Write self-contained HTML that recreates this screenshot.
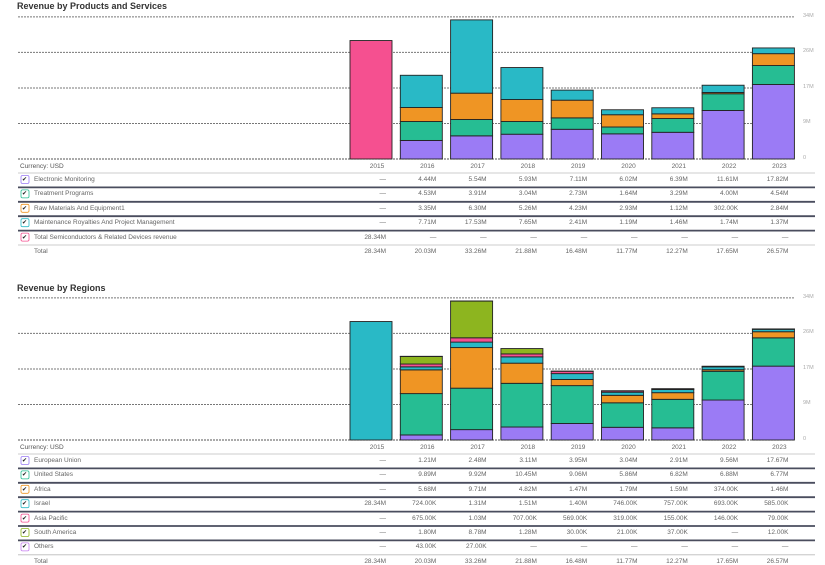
<!DOCTYPE html>
<html><head><meta charset="utf-8"><style>
body{margin:0;width:825px;height:559px;overflow:hidden;background:#fff;font-family:"Liberation Sans",sans-serif;position:relative}
.t{position:absolute;font-size:6.5px;color:#666;white-space:nowrap}
.title{position:absolute;font-size:9px;font-weight:bold;color:#333}
svg{position:absolute;left:0;top:0}
</style></head><body>
<div class="title" style="left:17px;top:1px">Revenue by Products and Services</div>
<div class="title" style="left:17px;top:283px">Revenue by Regions</div>
<svg id="s" width="825" height="559"></svg>
<div id="txt"></div>
<script>
const years=["2015","2016","2017","2018","2019","2020","2021","2022","2023"];
const ticks=[0,8.5,17,25.5,34];
const tickLabels=["0","9M","17M","26M","34M"];
// Products (millions)
const pNames=["Electronic Monitoring","Treatment Programs","Raw Materials And Equipment1","Maintenance Royalties And Project Management","Total Semiconductors & Related Devices revenue"];
const pColors=["#9b7bf5","#26bd93","#ef9524","#29b9c6","#f55090"];
const pElec=[0,4.44,5.54,5.93,7.11,6.02,6.39,11.61,17.82];
const pTreat=[0,4.53,3.91,3.04,2.73,1.64,3.29,4.00,4.54];
const pRaw=[0,3.35,6.30,5.26,4.23,2.93,1.12,0.302,2.84];
const pMaint=[0,7.71,17.53,7.65,2.41,1.19,1.46,1.74,1.37];
const pSemi=[28.34,0,0,0,0,0,0,0,0];
const pLabels=[
["—","4.44M","5.54M","5.93M","7.11M","6.02M","6.39M","11.61M","17.82M"],
["—","4.53M","3.91M","3.04M","2.73M","1.64M","3.29M","4.00M","4.54M"],
["—","3.35M","6.30M","5.26M","4.23M","2.93M","1.12M","302.00K","2.84M"],
["—","7.71M","17.53M","7.65M","2.41M","1.19M","1.46M","1.74M","1.37M"],
["28.34M","—","—","—","—","—","—","—","—"]];
const totals=["28.34M","20.03M","33.26M","21.88M","16.48M","11.77M","12.27M","17.65M","26.57M"];
// Regions (millions)
const rNames=["European Union","United States","Africa","Israel","Asia Pacific","South America","Others"];
const rColors=["#9b7bf5","#26bd93","#ef9524","#29b9c6","#f55090","#8db51f","#c77ef0"];
const rEU=[0,1.21,2.48,3.11,3.95,3.04,2.91,9.56,17.67];
const rUS=[0,9.89,9.92,10.45,9.06,5.86,6.82,6.88,6.77];
const rAf=[0,5.68,9.71,4.82,1.47,1.79,1.59,0.374,1.46];
const rIs=[28.34,0.724,1.31,1.51,1.40,0.746,0.757,0.693,0.585];
const rAP=[0,0.675,1.03,0.707,0.569,0.319,0.155,0.146,0.079];
const rSA=[0,1.80,8.78,1.28,0.030,0.021,0.037,0,0.012];
const rOt=[0,0.043,0.027,0,0,0,0,0,0];
const rLabels=[
["—","1.21M","2.48M","3.11M","3.95M","3.04M","2.91M","9.56M","17.67M"],
["—","9.89M","9.92M","10.45M","9.06M","5.86M","6.82M","6.88M","6.77M"],
["—","5.68M","9.71M","4.82M","1.47M","1.79M","1.59M","374.00K","1.46M"],
["28.34M","724.00K","1.31M","1.51M","1.40M","746.00K","757.00K","693.00K","585.00K"],
["—","675.00K","1.03M","707.00K","569.00K","319.00K","155.00K","146.00K","79.00K"],
["—","1.80M","8.78M","1.28M","30.00K","21.00K","37.00K","—","12.00K"],
["—","43.00K","27.00K","—","—","—","—","—","—"]];
const NS="http://www.w3.org/2000/svg",svg=document.getElementById('s'),txt=document.getElementById('txt');
const x0=350,pitch=50.3,bw=42,pxPerM=4.18;
function xs(i){return x0+i*pitch;}
function mk(tag,a){const e=document.createElementNS(NS,tag);for(const k in a)e.setAttribute(k,a[k]);svg.appendChild(e);return e;}
function label(s,x,y,align,extra){const d=document.createElement('div');d.className='t';d.textContent=s;
 d.style.top=(y-4)+'px';
 if(align==='r'){d.style.right=(825-x)+'px';}else if(align==='c'){d.style.left=(x-20)+'px';d.style.width='40px';d.style.textAlign='center';}else d.style.left=x+'px';
 if(extra)d.style.cssText+=extra;txt.appendChild(d);return d;}
function chart(base,series,colors,names,labels,pre){
 const ys=v=>base-v*pxPerM;
 ticks.forEach((t,i)=>{const g=mk('line',{x1:18,x2:795,y1:ys(t),y2:ys(t),stroke:i==0?'#555':'#777','stroke-width':1,'stroke-dasharray':'2,1'});
  
  const l=label(tickLabels[i],803,ys(t),'l','font-size:5.5px;color:#aaa');
  });
 years.forEach((yr,i)=>{let acc=0;
  series.forEach((s,k)=>{const v=s[i];if(v<=0)return;
   const r=mk('rect',{x:xs(i),y:ys(acc+v),width:bw,height:v*pxPerM,fill:colors[k],stroke:'#222','stroke-width':0.9});
   acc+=v;});
 });
 const hy=base+8;
 label('Currency: USD',20,hy,'l','color:#555');
 years.forEach((yr,i)=>{const l=label(yr,xs(i)+27,hy,'c');});
 const rh=14.4;
 names.forEach((n,k)=>{const cy=hy+13+k*rh;
  mk('line',{x1:18,x2:815,y1:cy-7,y2:cy-7,stroke:k==0?'#bbb':'#4a4d5e','stroke-width':k==0?0.8:1.8});
  const cb=mk('rect',{x:21,y:cy-4.5,width:8,height:8,rx:1.5,fill:'#fff',stroke:colors[k],'stroke-width':0.8});
  
  label('✔',22,cy,'l','font-size:6px;color:#222');
  const l=label(n,34,cy,'l');
  labels[k].forEach((v,i)=>label(v,xs(i)+36,cy,'r'));});
 mk('line',{x1:18,x2:815,y1:hy+13+names.length*rh-7,y2:hy+13+names.length*rh-7,stroke:'#bbb','stroke-width':0.8});
 const ty=hy+13+names.length*rh;
 label('Total',34,ty,'l');
 totals.forEach((v,i)=>label(v,xs(i)+36,ty,'r'));
}
chart(159,[pElec,pTreat,pRaw,pMaint,pSemi],pColors,pNames,pLabels,'products');
chart(440,[rEU,rUS,rAf,rIs,rAP,rSA,rOt],rColors,rNames,rLabels,'regions');
</script>
</body></html>
